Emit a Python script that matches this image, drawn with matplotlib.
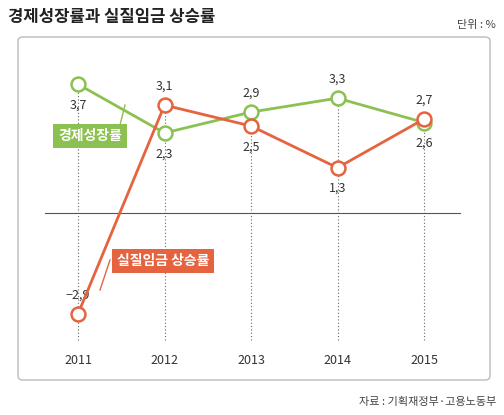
import matplotlib.pyplot as plt
from matplotlib.patches import FancyBboxPatch

plt.rcParams['font.family'] = ['Noto Sans CJK KR', 'DejaVu Sans']

years = [2011, 2012, 2013, 2014, 2015]
gdp = [3.7, 2.3, 2.9, 3.3, 2.6]
wage = [-2.9, 3.1, 2.5, 1.3, 2.7]
green = '#8cc152'
red = '#e5633f'

fig = plt.figure(figsize=(5.04, 4.15), dpi=100)
ax = fig.add_axes([0, 0, 1, 1])
# map data to pixel layout: 2011 -> x78, 86.5 px/year; zero -> y213, 34.8 px/unit
ax.set_xlim(2011 - 78 / 86.5, 2011 + (504 - 78) / 86.5)
ax.set_ylim((213 - 415) / 34.8, 213 / 34.8)
ax.axis('off')

# frame
box = FancyBboxPatch((18 / 504, 35 / 415), 472 / 504, 343 / 415, transform=fig.transFigure,
                     boxstyle='round,pad=0,rounding_size=0.01', fc='none', ec='#bbbbbb', lw=1, zorder=0)
ax.add_patch(box)

ax.axhline(0, xmin=45 / 504, xmax=460 / 504, color='#555555', lw=0.8)
ybot = (213 - 340) / 34.8
for x, a, b in zip(years, gdp, wage):
    ax.plot([x, x], [ybot, max(a, b)], color='#666666', lw=0.8, ls=(0, (1, 2)))
    ax.text(x, (213 - 360) / 34.8, str(x), ha='center', va='center', fontsize=9, color='#333333')

ax.plot(years, gdp, color=green, lw=2, marker='o', ms=10, mfc='white', mec=green, mew=1.8, zorder=3)
ax.plot(years, wage, color=red, lw=2, marker='o', ms=10, mfc='white', mec=red, mew=1.8, zorder=4)

goff = [-0.6, -0.6, 0.55, 0.55, -0.6]
woff = [0.55, 0.55, -0.6, -0.6, 0.55]
for x, a, b, ga, wb in zip(years, gdp, wage, goff, woff):
    ax.text(x, a + ga, f'{a:.1f}'.replace('.', ','), ha='center', va='center', fontsize=9, color='#333333')
    ax.text(x, b + wb, f'{b:.1f}'.replace('.', ',').replace('-', '−'), ha='center', va='center',
            fontsize=9, color='#333333')

# callouts
ax.plot([2011 + (120 - 78) / 86.5, 2011 + (125 - 78) / 86.5], [(213 - 125) / 34.8, (213 - 105) / 34.8], color=green, lw=1)
ax.text(2011 + (90 - 78) / 86.5, (213 - 136) / 34.8, '경제성장률', ha='center', va='center', fontsize=10,
        color='white', fontweight='bold', bbox=dict(boxstyle='square,pad=0.35', fc=green, ec='none'))
ax.plot([2011 + (110 - 78) / 86.5, 2011 + (100 - 78) / 86.5], [(213 - 260) / 34.8, (213 - 290) / 34.8], color=red, lw=1)
ax.text(2011 + (163 - 78) / 86.5, (213 - 261) / 34.8, '실질임금 상승률', ha='center', va='center', fontsize=10,
        color='white', fontweight='bold', bbox=dict(boxstyle='square,pad=0.35', fc=red, ec='none'))

fig.text(8 / 504, 1 - 17 / 415, '경제성장률과 실질임금 상승률', fontsize=12, fontweight='bold', va='center', color='#222222')
fig.text(496 / 504, 1 - 25 / 415, '단위 : %', fontsize=8, ha='right', va='center', color='#444444')
fig.text(496 / 504, 1 - 402 / 415, '자료 : 기획재정부·고용노동부', fontsize=8, ha='right', va='center', color='#444444')

fig.savefig('out.png', dpi=100)
